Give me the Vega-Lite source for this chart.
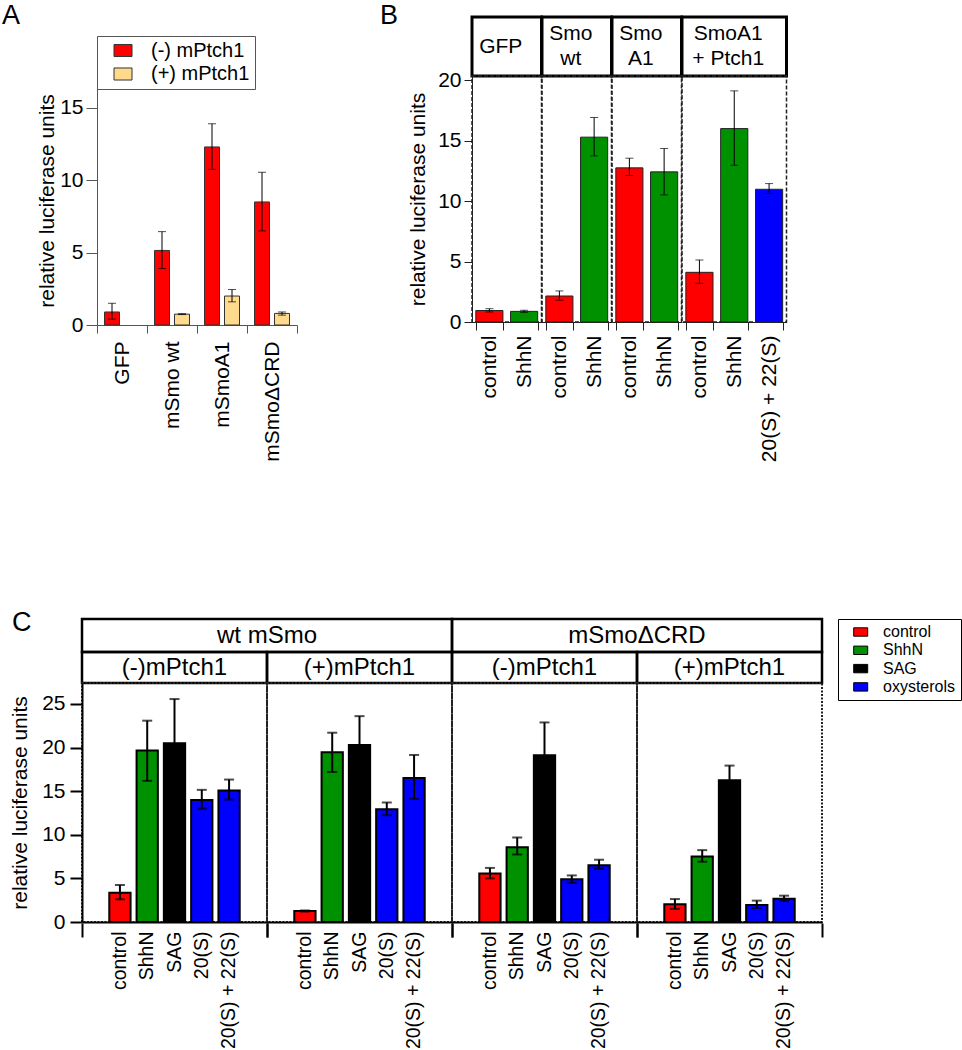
{
"$schema": "https://vega.github.io/schema/vega-lite/v6.json",
"padding": {"left": 2, "top": 0, "right": 2, "bottom": 2},
"background": "white",
"config": {
  "font": "Liberation Sans",
  "view": {"stroke": null},
  "axis": {"grid": false, "labelColor": "black", "titleColor": "black", "titleFontWeight": "normal", "domainColor": "black", "tickColor": "black"},
  "title": {"fontWeight": "normal", "fontSize": 27, "anchor": "start", "offset": 0, "color": "black"}
},
"datasets": {
  "A": [
    {"construct": "GFP", "ptch": "(-)  mPtch1", "v": 0.9, "lo": 0.4, "hi": 1.5},
    {"construct": "mSmo wt", "ptch": "(-)  mPtch1", "v": 5.15, "lo": 3.9, "hi": 6.45},
    {"construct": "mSmo wt", "ptch": "(+) mPtch1", "v": 0.75, "lo": 0.72, "hi": 0.78},
    {"construct": "mSmoA1", "ptch": "(-)  mPtch1", "v": 12.3, "lo": 10.75, "hi": 13.9},
    {"construct": "mSmoA1", "ptch": "(+) mPtch1", "v": 2.0, "lo": 1.6, "hi": 2.45},
    {"construct": "mSmoΔCRD", "ptch": "(-)  mPtch1", "v": 8.5, "lo": 6.5, "hi": 10.55},
    {"construct": "mSmoΔCRD", "ptch": "(+) mPtch1", "v": 0.8, "lo": 0.68, "hi": 0.9}
  ],
  "B": [
    {"grp": "GFP", "trt": "control", "cls": "control", "v": 0.95, "lo": 0.83, "hi": 1.1},
    {"grp": "GFP", "trt": "ShhN", "cls": "ShhN", "v": 0.88, "lo": 0.8, "hi": 0.97},
    {"grp": "Smo wt", "trt": "control", "cls": "control", "v": 2.15, "lo": 1.8, "hi": 2.57},
    {"grp": "Smo wt", "trt": "ShhN", "cls": "ShhN", "v": 15.29, "lo": 13.74, "hi": 16.92},
    {"grp": "Smo A1", "trt": "control", "cls": "control", "v": 12.75, "lo": 12.12, "hi": 13.55},
    {"grp": "Smo A1", "trt": "ShhN", "cls": "ShhN", "v": 12.42, "lo": 10.51, "hi": 14.35},
    {"grp": "SmoA1 + Ptch1", "trt": "control", "cls": "control", "v": 4.11, "lo": 3.2, "hi": 5.13},
    {"grp": "SmoA1 + Ptch1", "trt": "ShhN", "cls": "ShhN", "v": 16.0, "lo": 12.97, "hi": 19.12},
    {"grp": "SmoA1 + Ptch1", "trt": "20(S) + 22(S)", "cls": "oxysterols", "v": 10.98, "lo": 10.63, "hi": 11.45}
  ],
  "C": [
    {"smo": "wt mSmo", "ptch": "(-)mPtch1", "trt": "control", "cls": "control", "v": 3.36, "lo": 2.6, "hi": 4.24},
    {"smo": "wt mSmo", "ptch": "(-)mPtch1", "trt": "ShhN", "cls": "ShhN", "v": 19.65, "lo": 16.18, "hi": 23.08},
    {"smo": "wt mSmo", "ptch": "(-)mPtch1", "trt": "SAG", "cls": "SAG", "v": 20.48, "lo": 15.4, "hi": 25.56},
    {"smo": "wt mSmo", "ptch": "(-)mPtch1", "trt": "20(S)", "cls": "oxysterols", "v": 14.0, "lo": 13.0, "hi": 15.15},
    {"smo": "wt mSmo", "ptch": "(-)mPtch1", "trt": "20(S) + 22(S)", "cls": "oxysterols", "v": 15.07, "lo": 14.04, "hi": 16.33},
    {"smo": "wt mSmo", "ptch": "(+)mPtch1", "trt": "control", "cls": "control", "v": 1.26, "lo": 1.2, "hi": 1.32},
    {"smo": "wt mSmo", "ptch": "(+)mPtch1", "trt": "ShhN", "cls": "ShhN", "v": 19.45, "lo": 17.2, "hi": 21.7},
    {"smo": "wt mSmo", "ptch": "(+)mPtch1", "trt": "SAG", "cls": "SAG", "v": 20.3, "lo": 17.0, "hi": 23.6},
    {"smo": "wt mSmo", "ptch": "(+)mPtch1", "trt": "20(S)", "cls": "oxysterols", "v": 12.93, "lo": 12.24, "hi": 13.7},
    {"smo": "wt mSmo", "ptch": "(+)mPtch1", "trt": "20(S) + 22(S)", "cls": "oxysterols", "v": 16.52, "lo": 14.12, "hi": 19.15},
    {"smo": "mSmoΔCRD", "ptch": "(-)mPtch1", "trt": "control", "cls": "control", "v": 5.57, "lo": 5.0, "hi": 6.2},
    {"smo": "mSmoΔCRD", "ptch": "(-)mPtch1", "trt": "ShhN", "cls": "ShhN", "v": 8.58, "lo": 7.75, "hi": 9.69},
    {"smo": "mSmoΔCRD", "ptch": "(-)mPtch1", "trt": "SAG", "cls": "SAG", "v": 19.11, "lo": 15.4, "hi": 22.88},
    {"smo": "mSmoΔCRD", "ptch": "(-)mPtch1", "trt": "20(S)", "cls": "oxysterols", "v": 4.89, "lo": 4.5, "hi": 5.34},
    {"smo": "mSmoΔCRD", "ptch": "(-)mPtch1", "trt": "20(S) + 22(S)", "cls": "oxysterols", "v": 6.52, "lo": 6.11, "hi": 7.14},
    {"smo": "mSmoΔCRD", "ptch": "(+)mPtch1", "trt": "control", "cls": "control", "v": 2.03, "lo": 1.5, "hi": 2.63},
    {"smo": "mSmoΔCRD", "ptch": "(+)mPtch1", "trt": "ShhN", "cls": "ShhN", "v": 7.52, "lo": 6.91, "hi": 8.24},
    {"smo": "mSmoΔCRD", "ptch": "(+)mPtch1", "trt": "SAG", "cls": "SAG", "v": 16.25, "lo": 14.6, "hi": 17.93},
    {"smo": "mSmoΔCRD", "ptch": "(+)mPtch1", "trt": "20(S)", "cls": "oxysterols", "v": 1.95, "lo": 1.6, "hi": 2.45},
    {"smo": "mSmoΔCRD", "ptch": "(+)mPtch1", "trt": "20(S) + 22(S)", "cls": "oxysterols", "v": 2.67, "lo": 2.4, "hi": 3.02}
  ]
},
"bounds": "flush",
"spacing": 602,
"resolve": {"scale": {"color": "independent"}, "legend": {"color": "independent"}},
"vconcat": [
{
  "columns": 7,
  "bounds": "flush",
  "spacing": 0,
  "align": "each",
  "resolve": {"scale": {"color": "independent"}, "legend": {"color": "independent"}},
  "concat": [
    {"width": 15, "height": 59, "data": {"values": []}, "mark": "text", "encoding": {}},
    {"width": 200, "height": 59, "data": {"values": []}, "mark": "text", "encoding": {}, "title": {"text": "A", "dx": -95, "dy": 17}},
    {"width": 175, "height": 59, "data": {"values": []}, "mark": "text", "encoding": {}},
    {"width": 69.5, "height": 59, "data": {"values": [{"h": "GFP"}]}, "mark": {"type": "text", "fontSize": 21, "dx": -6, "lineBreak": "\n", "lineHeight": 25, "color": "black"}, "encoding": {"text": {"field": "h", "type": "nominal"}}, "view": {"stroke": "black", "strokeWidth": 3}, "title": {"text": "B", "dx": -92, "dy": 17}},
    {"width": 69.5, "height": 59, "data": {"values": [{"h": "Smo\nwt"}]}, "mark": {"type": "text", "fontSize": 21, "dx": -6, "dy": -12.5, "lineBreak": "\n", "lineHeight": 25, "color": "black"}, "encoding": {"text": {"field": "h", "type": "nominal"}}, "view": {"stroke": "black", "strokeWidth": 3}},
    {"width": 69.5, "height": 59, "data": {"values": [{"h": "Smo\nA1"}]}, "mark": {"type": "text", "fontSize": 21, "dx": -6, "dy": -12.5, "lineBreak": "\n", "lineHeight": 25, "color": "black"}, "encoding": {"text": {"field": "h", "type": "nominal"}}, "view": {"stroke": "black", "strokeWidth": 3}},
    {"width": 104.5, "height": 59, "data": {"values": [{"h": "SmoA1\n+ Ptch1"}]}, "mark": {"type": "text", "fontSize": 21, "dx": -6, "dy": -12.5, "lineBreak": "\n", "lineHeight": 25, "color": "black"}, "encoding": {"text": {"field": "h", "type": "nominal"}}, "view": {"stroke": "black", "strokeWidth": 3}},

    {"width": 15, "height": 1, "data": {"values": []}, "mark": "text", "encoding": {}},
    {
      "width": 200, "height": 249,
      "data": {"name": "A"},
      "encoding": {
        "x": {"field": "construct", "type": "nominal", "scale": {"domain": ["GFP", "mSmo wt", "mSmoA1", "mSmoΔCRD"], "paddingInner": 0, "paddingOuter": 0},
              "axis": {"title": null, "labelAngle": -90, "labelFontSize": 21, "tickBand": "extent", "tickSize": 8, "labelPadding": 8, "domainColor": "#555", "tickColor": "#555"}},
        "xOffset": {"field": "ptch", "type": "nominal", "scale": {"domain": ["(-)  mPtch1", "(+) mPtch1"], "paddingInner": 0.25, "paddingOuter": 0.375}}
      },
      "layer": [
        {"mark": {"type": "bar", "stroke": "#333", "strokeWidth": 1},
         "encoding": {
           "y": {"field": "v", "type": "quantitative", "title": "relative luciferase units", "scale": {"domain": [0, 17.2], "nice": false},
                 "axis": {"values": [0, 5, 10, 15], "titleFontSize": 21, "labelFontSize": 21, "tickSize": 11, "labelPadding": 3, "titlePadding": 2, "domainColor": "#555", "tickColor": "#555"}},
           "color": {"field": "ptch", "type": "nominal", "scale": {"domain": ["(-)  mPtch1", "(+) mPtch1"], "range": ["#ff0000", "#ffd98c"]},
                     "legend": {"orient": "none", "legendX": 0, "legendY": -40, "title": null, "symbolType": "M-1,-0.67H1V0.67H-1Z", "symbolSize": 324, "symbolStrokeColor": "#333", "symbolStrokeWidth": 1, "symbolOffset": 11.5, "labelOffset": 18, "labelFontSize": 20, "labelColor": "black", "padding": 4.5, "rowPadding": 3.5, "strokeColor": "#555", "fillColor": "white", "labelLimit": 300}}
         }},
        {"mark": {"type": "rule", "color": "black", "strokeWidth": 1},
         "encoding": {
           "y": {"field": "lo", "type": "quantitative", "title": "relative luciferase units", "scale": {"domain": [0, 17.2], "nice": false},
                 "axis": {"values": [0, 5, 10, 15], "titleFontSize": 21, "labelFontSize": 21, "tickSize": 11, "labelPadding": 3, "titlePadding": 2, "domainColor": "#555", "tickColor": "#555"}},
           "y2": {"field": "hi"}
         }},
        {"mark": {"type": "tick", "orient": "horizontal", "size": 8, "thickness": 1, "color": "black"},
         "encoding": {
           "y": {"field": "lo", "type": "quantitative", "title": "relative luciferase units", "scale": {"domain": [0, 17.2], "nice": false},
                 "axis": {"values": [0, 5, 10, 15], "titleFontSize": 21, "labelFontSize": 21, "tickSize": 11, "labelPadding": 3, "titlePadding": 2, "domainColor": "#555", "tickColor": "#555"}}
         }},
        {"mark": {"type": "tick", "orient": "horizontal", "size": 8, "thickness": 1, "color": "black"},
         "encoding": {
           "y": {"field": "hi", "type": "quantitative", "title": "relative luciferase units", "scale": {"domain": [0, 17.2], "nice": false},
                 "axis": {"values": [0, 5, 10, 15], "titleFontSize": 21, "labelFontSize": 21, "tickSize": 11, "labelPadding": 3, "titlePadding": 2, "domainColor": "#555", "tickColor": "#555"}}
         }}
      ]
    },
    {"width": 175, "height": 1, "data": {"values": []}, "mark": "text", "encoding": {}},
    {
      "width": 69.5, "height": 246,
      "data": {"name": "B"},
      "transform": [{"filter": {"field": "grp", "equal": "GFP"}}],
      "view": {"stroke": "#222", "strokeDash": [4, 2], "strokeWidth": 1.5},
      "encoding": {"x": {"field": "trt", "type": "nominal", "scale": {"domain": ["control", "ShhN"], "paddingInner": 0.22, "paddingOuter": 0.11},
                         "axis": {"title": null, "labelAngle": -90, "labelFontSize": 21, "tickBand": "extent", "tickSize": 8, "labelPadding": 5, "domainColor": "#222", "tickColor": "#222"}}},
      "layer": [
        {"mark": {"type": "bar", "stroke": "#222", "strokeWidth": 1},
         "encoding": {"y": {"field": "v", "type": "quantitative", "title": "relative luciferase units", "scale": {"domain": [0, 20.35], "nice": false},
                            "axis": {"values": [0, 5, 10, 15, 20], "titleFontSize": 21, "labelFontSize": 21, "tickSize": 8, "labelPadding": 3, "titlePadding": 9, "domainColor": "#222", "tickColor": "#222"}},
                      "color": {"field": "cls", "type": "nominal", "scale": {"domain": ["control", "ShhN", "SAG", "oxysterols"], "range": ["#ff0000", "#009100", "#000000", "#0000ff"]}, "legend": null}}},
        {"mark": {"type": "rule", "color": "black", "strokeWidth": 1},
         "encoding": {"y": {"field": "lo", "type": "quantitative", "title": "relative luciferase units", "scale": {"domain": [0, 20.35], "nice": false},
                            "axis": {"values": [0, 5, 10, 15, 20], "titleFontSize": 21, "labelFontSize": 21, "tickSize": 8, "labelPadding": 3, "titlePadding": 9, "domainColor": "#222", "tickColor": "#222"}},
                      "y2": {"field": "hi"}}},
        {"mark": {"type": "tick", "orient": "horizontal", "size": 8, "thickness": 1, "color": "black"},
         "encoding": {"y": {"field": "lo", "type": "quantitative", "title": "relative luciferase units", "scale": {"domain": [0, 20.35], "nice": false},
                            "axis": {"values": [0, 5, 10, 15, 20], "titleFontSize": 21, "labelFontSize": 21, "tickSize": 8, "labelPadding": 3, "titlePadding": 9, "domainColor": "#222", "tickColor": "#222"}}}},
        {"mark": {"type": "tick", "orient": "horizontal", "size": 8, "thickness": 1, "color": "black"},
         "encoding": {"y": {"field": "hi", "type": "quantitative", "title": "relative luciferase units", "scale": {"domain": [0, 20.35], "nice": false},
                            "axis": {"values": [0, 5, 10, 15, 20], "titleFontSize": 21, "labelFontSize": 21, "tickSize": 8, "labelPadding": 3, "titlePadding": 9, "domainColor": "#222", "tickColor": "#222"}}}}
      ]
    },
    {
      "width": 69.5, "height": 246,
      "data": {"name": "B"},
      "transform": [{"filter": {"field": "grp", "equal": "Smo wt"}}],
      "view": {"stroke": "#222", "strokeDash": [4, 2], "strokeWidth": 1.5},
      "encoding": {"x": {"field": "trt", "type": "nominal", "scale": {"domain": ["control", "ShhN"], "paddingInner": 0.22, "paddingOuter": 0.11},
                         "axis": {"title": null, "labelAngle": -90, "labelFontSize": 21, "tickBand": "extent", "tickSize": 8, "labelPadding": 5, "domainColor": "#222", "tickColor": "#222"}}},
      "layer": [
        {"mark": {"type": "bar", "stroke": "#222", "strokeWidth": 1},
         "encoding": {"y": {"field": "v", "type": "quantitative", "scale": {"domain": [0, 20.35], "nice": false}, "axis": null},
                      "color": {"field": "cls", "type": "nominal", "scale": {"domain": ["control", "ShhN", "SAG", "oxysterols"], "range": ["#ff0000", "#009100", "#000000", "#0000ff"]}, "legend": null}}},
        {"mark": {"type": "rule", "color": "black", "strokeWidth": 1},
         "encoding": {"y": {"field": "lo", "type": "quantitative", "scale": {"domain": [0, 20.35], "nice": false}, "axis": null}, "y2": {"field": "hi"}}},
        {"mark": {"type": "tick", "orient": "horizontal", "size": 8, "thickness": 1, "color": "black"},
         "encoding": {"y": {"field": "lo", "type": "quantitative", "scale": {"domain": [0, 20.35], "nice": false}, "axis": null}}},
        {"mark": {"type": "tick", "orient": "horizontal", "size": 8, "thickness": 1, "color": "black"},
         "encoding": {"y": {"field": "hi", "type": "quantitative", "scale": {"domain": [0, 20.35], "nice": false}, "axis": null}}}
      ]
    },
    {
      "width": 69.5, "height": 246,
      "data": {"name": "B"},
      "transform": [{"filter": {"field": "grp", "equal": "Smo A1"}}],
      "view": {"stroke": "#222", "strokeDash": [4, 2], "strokeWidth": 1.5},
      "encoding": {"x": {"field": "trt", "type": "nominal", "scale": {"domain": ["control", "ShhN"], "paddingInner": 0.22, "paddingOuter": 0.11},
                         "axis": {"title": null, "labelAngle": -90, "labelFontSize": 21, "tickBand": "extent", "tickSize": 8, "labelPadding": 5, "domainColor": "#222", "tickColor": "#222"}}},
      "layer": [
        {"mark": {"type": "bar", "stroke": "#222", "strokeWidth": 1},
         "encoding": {"y": {"field": "v", "type": "quantitative", "scale": {"domain": [0, 20.35], "nice": false}, "axis": null},
                      "color": {"field": "cls", "type": "nominal", "scale": {"domain": ["control", "ShhN", "SAG", "oxysterols"], "range": ["#ff0000", "#009100", "#000000", "#0000ff"]}, "legend": null}}},
        {"mark": {"type": "rule", "color": "black", "strokeWidth": 1},
         "encoding": {"y": {"field": "lo", "type": "quantitative", "scale": {"domain": [0, 20.35], "nice": false}, "axis": null}, "y2": {"field": "hi"}}},
        {"mark": {"type": "tick", "orient": "horizontal", "size": 8, "thickness": 1, "color": "black"},
         "encoding": {"y": {"field": "lo", "type": "quantitative", "scale": {"domain": [0, 20.35], "nice": false}, "axis": null}}},
        {"mark": {"type": "tick", "orient": "horizontal", "size": 8, "thickness": 1, "color": "black"},
         "encoding": {"y": {"field": "hi", "type": "quantitative", "scale": {"domain": [0, 20.35], "nice": false}, "axis": null}}}
      ]
    },
    {
      "width": 104.5, "height": 246,
      "data": {"name": "B"},
      "transform": [{"filter": {"field": "grp", "equal": "SmoA1 + Ptch1"}}],
      "view": {"stroke": "#222", "strokeDash": [4, 2], "strokeWidth": 1.5},
      "encoding": {"x": {"field": "trt", "type": "nominal", "scale": {"domain": ["control", "ShhN", "20(S) + 22(S)"], "paddingInner": 0.22, "paddingOuter": 0.11},
                         "axis": {"title": null, "labelAngle": -90, "labelFontSize": 21, "tickBand": "extent", "tickSize": 8, "labelPadding": 5, "domainColor": "#222", "tickColor": "#222"}}},
      "layer": [
        {"mark": {"type": "bar", "stroke": "#222", "strokeWidth": 1},
         "encoding": {"y": {"field": "v", "type": "quantitative", "scale": {"domain": [0, 20.35], "nice": false}, "axis": null},
                      "color": {"field": "cls", "type": "nominal", "scale": {"domain": ["control", "ShhN", "SAG", "oxysterols"], "range": ["#ff0000", "#009100", "#000000", "#0000ff"]}, "legend": null}}},
        {"mark": {"type": "rule", "color": "black", "strokeWidth": 1},
         "encoding": {"y": {"field": "lo", "type": "quantitative", "scale": {"domain": [0, 20.35], "nice": false}, "axis": null}, "y2": {"field": "hi"}}},
        {"mark": {"type": "tick", "orient": "horizontal", "size": 8, "thickness": 1, "color": "black"},
         "encoding": {"y": {"field": "lo", "type": "quantitative", "scale": {"domain": [0, 20.35], "nice": false}, "axis": null}}},
        {"mark": {"type": "tick", "orient": "horizontal", "size": 8, "thickness": 1, "color": "black"},
         "encoding": {"y": {"field": "hi", "type": "quantitative", "scale": {"domain": [0, 20.35], "nice": false}, "axis": null}}}
      ]
    }
  ]
},
{
  "hconcat": [
    {
      "vconcat": [
        {"width": 370, "height": 33, "data": {"values": [{"h": "wt mSmo"}]}, "mark": {"type": "text", "fontSize": 24, "color": "black"}, "encoding": {"text": {"field": "h", "type": "nominal"}}, "view": {"stroke": "black", "strokeWidth": 2.5}, "title": {"text": "C", "dx": -70, "dy": 22}},
        {
          "columns": 2, "bounds": "flush", "spacing": 0, "align": "each",
          "resolve": {"scale": {"color": "independent"}, "legend": {"color": "independent"}},
          "concat": [
            {"width": 185, "height": 31, "data": {"values": [{"h": "(-)mPtch1"}]}, "mark": {"type": "text", "fontSize": 24, "color": "black"}, "encoding": {"text": {"field": "h", "type": "nominal"}}, "view": {"stroke": "black", "strokeWidth": 2.5}},
            {"width": 185, "height": 31, "data": {"values": [{"h": "(+)mPtch1"}]}, "mark": {"type": "text", "fontSize": 24, "color": "black"}, "encoding": {"text": {"field": "h", "type": "nominal"}}, "view": {"stroke": "black", "strokeWidth": 2.5}},
            {
              "width": 185, "height": 239,
              "data": {"name": "C"},
              "transform": [{"filter": "datum.smo == 'wt mSmo' && datum.ptch == '(-)mPtch1'"}],
              "view": {"stroke": "#222", "strokeDash": [2, 1.5], "strokeWidth": 2},
              "encoding": {"x": {"field": "trt", "type": "nominal", "scale": {"domain": ["control", "ShhN", "SAG", "20(S)", "20(S) + 22(S)"], "paddingInner": 0.22, "paddingOuter": 1.05},
                                 "axis": {"title": null, "labelAngle": -90, "labelFontSize": 19.5, "ticks": false, "labelPadding": 9, "domainWidth": 2}}},
              "layer": [
                {"mark": {"type": "bar", "stroke": "black", "strokeWidth": 2},
                 "encoding": {"y": {"field": "v", "type": "quantitative", "title": "relative luciferase units", "scale": {"domain": [0, 27.4], "nice": false},
                                    "axis": {"values": [0, 5, 10, 15, 20, 25], "titleFontSize": 21, "labelFontSize": 21, "tickSize": 12, "tickWidth": 2, "domainWidth": 2, "labelPadding": 5, "titlePadding": 11}},
                              "color": {"field": "cls", "type": "nominal", "scale": {"domain": ["control", "ShhN", "SAG", "oxysterols"], "range": ["#ff0000", "#009100", "#000000", "#0000ff"]}, "legend": null}}},
                {"mark": {"type": "rule", "color": "black", "strokeWidth": 2},
                 "encoding": {"y": {"field": "lo", "type": "quantitative", "title": "relative luciferase units", "scale": {"domain": [0, 27.4], "nice": false},
                                    "axis": {"values": [0, 5, 10, 15, 20, 25], "titleFontSize": 21, "labelFontSize": 21, "tickSize": 12, "tickWidth": 2, "domainWidth": 2, "labelPadding": 5, "titlePadding": 11}},
                              "y2": {"field": "hi"}}},
                {"mark": {"type": "tick", "orient": "horizontal", "size": 10, "thickness": 2, "color": "black"},
                 "encoding": {"y": {"field": "lo", "type": "quantitative", "title": "relative luciferase units", "scale": {"domain": [0, 27.4], "nice": false},
                                    "axis": {"values": [0, 5, 10, 15, 20, 25], "titleFontSize": 21, "labelFontSize": 21, "tickSize": 12, "tickWidth": 2, "domainWidth": 2, "labelPadding": 5, "titlePadding": 11}}}},
                {"mark": {"type": "tick", "orient": "horizontal", "size": 10, "thickness": 2, "color": "black"},
                 "encoding": {"y": {"field": "hi", "type": "quantitative", "title": "relative luciferase units", "scale": {"domain": [0, 27.4], "nice": false},
                                    "axis": {"values": [0, 5, 10, 15, 20, 25], "titleFontSize": 21, "labelFontSize": 21, "tickSize": 12, "tickWidth": 2, "domainWidth": 2, "labelPadding": 5, "titlePadding": 11}}}}
              ]
            },
            {
              "width": 185, "height": 239,
              "data": {"name": "C"},
              "transform": [{"filter": "datum.smo == 'wt mSmo' && datum.ptch == '(+)mPtch1'"}],
              "view": {"stroke": "#222", "strokeDash": [2, 1.5], "strokeWidth": 2},
              "encoding": {"x": {"field": "trt", "type": "nominal", "scale": {"domain": ["control", "ShhN", "SAG", "20(S)", "20(S) + 22(S)"], "paddingInner": 0.22, "paddingOuter": 1.05},
                                 "axis": {"title": null, "labelAngle": -90, "labelFontSize": 19.5, "ticks": false, "labelPadding": 9, "domainWidth": 2}}},
              "layer": [
                {"mark": {"type": "bar", "stroke": "black", "strokeWidth": 2},
                 "encoding": {"y": {"field": "v", "type": "quantitative", "scale": {"domain": [0, 27.4], "nice": false}, "axis": null},
                              "color": {"field": "cls", "type": "nominal", "scale": {"domain": ["control", "ShhN", "SAG", "oxysterols"], "range": ["#ff0000", "#009100", "#000000", "#0000ff"]}, "legend": null}}},
                {"mark": {"type": "rule", "color": "black", "strokeWidth": 2},
                 "encoding": {"y": {"field": "lo", "type": "quantitative", "scale": {"domain": [0, 27.4], "nice": false}, "axis": null}, "y2": {"field": "hi"}}},
                {"mark": {"type": "tick", "orient": "horizontal", "size": 10, "thickness": 2, "color": "black"},
                 "encoding": {"y": {"field": "lo", "type": "quantitative", "scale": {"domain": [0, 27.4], "nice": false}, "axis": null}}},
                {"mark": {"type": "tick", "orient": "horizontal", "size": 10, "thickness": 2, "color": "black"},
                 "encoding": {"y": {"field": "hi", "type": "quantitative", "scale": {"domain": [0, 27.4], "nice": false}, "axis": null}}}
              ]
            },
            {"width": 185, "height": 1, "data": {"values": []}, "mark": "rule",
             "encoding": {"x": {"field": "b", "type": "quantitative", "scale": {"domain": [0, 1], "nice": false},
                                "axis": {"values": [0, 1], "labels": false, "domain": false, "tickSize": 14, "tickWidth": 2, "title": null}}}},
            {"width": 185, "height": 1, "data": {"values": []}, "mark": "rule",
             "encoding": {"x": {"field": "b", "type": "quantitative", "scale": {"domain": [0, 1], "nice": false},
                                "axis": {"values": [0, 1], "labels": false, "domain": false, "tickSize": 14, "tickWidth": 2, "title": null}}}}
          ]
        }
      ],
      "spacing": 0, "bounds": "flush",
      "resolve": {"scale": {"color": "independent"}, "legend": {"color": "independent"}}
    },
    {
      "vconcat": [
        {"width": 370, "height": 33, "data": {"values": [{"h": "mSmoΔCRD"}]}, "mark": {"type": "text", "fontSize": 24, "color": "black"}, "encoding": {"text": {"field": "h", "type": "nominal"}}, "view": {"stroke": "black", "strokeWidth": 2.5}},
        {
          "columns": 2, "bounds": "flush", "spacing": 0, "align": "each",
          "resolve": {"scale": {"color": "independent"}, "legend": {"color": "independent"}},
          "concat": [
            {"width": 185, "height": 31, "data": {"values": [{"h": "(-)mPtch1"}]}, "mark": {"type": "text", "fontSize": 24, "color": "black"}, "encoding": {"text": {"field": "h", "type": "nominal"}}, "view": {"stroke": "black", "strokeWidth": 2.5}},
            {"width": 185, "height": 31, "data": {"values": [{"h": "(+)mPtch1"}]}, "mark": {"type": "text", "fontSize": 24, "color": "black"}, "encoding": {"text": {"field": "h", "type": "nominal"}}, "view": {"stroke": "black", "strokeWidth": 2.5}},
            {
              "width": 185, "height": 239,
              "data": {"name": "C"},
              "transform": [{"filter": "datum.smo == 'mSmoΔCRD' && datum.ptch == '(-)mPtch1'"}],
              "view": {"stroke": "#222", "strokeDash": [2, 1.5], "strokeWidth": 2},
              "encoding": {"x": {"field": "trt", "type": "nominal", "scale": {"domain": ["control", "ShhN", "SAG", "20(S)", "20(S) + 22(S)"], "paddingInner": 0.22, "paddingOuter": 1.05},
                                 "axis": {"title": null, "labelAngle": -90, "labelFontSize": 19.5, "ticks": false, "labelPadding": 9, "domainWidth": 2}}},
              "layer": [
                {"mark": {"type": "bar", "stroke": "black", "strokeWidth": 2},
                 "encoding": {"y": {"field": "v", "type": "quantitative", "scale": {"domain": [0, 27.4], "nice": false}, "axis": null},
                              "color": {"field": "cls", "type": "nominal", "scale": {"domain": ["control", "ShhN", "SAG", "oxysterols"], "range": ["#ff0000", "#009100", "#000000", "#0000ff"]}, "legend": null}}},
                {"mark": {"type": "rule", "color": "black", "strokeWidth": 2},
                 "encoding": {"y": {"field": "lo", "type": "quantitative", "scale": {"domain": [0, 27.4], "nice": false}, "axis": null}, "y2": {"field": "hi"}}},
                {"mark": {"type": "tick", "orient": "horizontal", "size": 10, "thickness": 2, "color": "black"},
                 "encoding": {"y": {"field": "lo", "type": "quantitative", "scale": {"domain": [0, 27.4], "nice": false}, "axis": null}}},
                {"mark": {"type": "tick", "orient": "horizontal", "size": 10, "thickness": 2, "color": "black"},
                 "encoding": {"y": {"field": "hi", "type": "quantitative", "scale": {"domain": [0, 27.4], "nice": false}, "axis": null}}}
              ]
            },
            {
              "width": 185, "height": 239,
              "data": {"name": "C"},
              "transform": [{"filter": "datum.smo == 'mSmoΔCRD' && datum.ptch == '(+)mPtch1'"}],
              "view": {"stroke": "#222", "strokeDash": [2, 1.5], "strokeWidth": 2},
              "encoding": {"x": {"field": "trt", "type": "nominal", "scale": {"domain": ["control", "ShhN", "SAG", "20(S)", "20(S) + 22(S)"], "paddingInner": 0.22, "paddingOuter": 1.05},
                                 "axis": {"title": null, "labelAngle": -90, "labelFontSize": 19.5, "ticks": false, "labelPadding": 9, "domainWidth": 2}}},
              "layer": [
                {"mark": {"type": "bar", "stroke": "black", "strokeWidth": 2},
                 "encoding": {"y": {"field": "v", "type": "quantitative", "scale": {"domain": [0, 27.4], "nice": false}, "axis": null},
                              "color": {"field": "cls", "type": "nominal", "scale": {"domain": ["control", "ShhN", "SAG", "oxysterols"], "range": ["#ff0000", "#009100", "#000000", "#0000ff"]},
                                        "legend": {"orient": "none", "legendX": 201, "legendY": -64, "title": null, "symbolType": "M-1,-0.6H1V0.6H-1Z", "symbolSize": 196, "symbolStrokeColor": "black", "symbolStrokeWidth": 1, "symbolOffset": 9.7, "labelOffset": 14.3, "labelFontSize": 16, "labelColor": "black", "padding": 5, "rowPadding": 2.3, "strokeColor": "black", "fillColor": "white", "labelLimit": 300}}}},
                {"mark": {"type": "rule", "color": "black", "strokeWidth": 2},
                 "encoding": {"y": {"field": "lo", "type": "quantitative", "scale": {"domain": [0, 27.4], "nice": false}, "axis": null}, "y2": {"field": "hi"}}},
                {"mark": {"type": "tick", "orient": "horizontal", "size": 10, "thickness": 2, "color": "black"},
                 "encoding": {"y": {"field": "lo", "type": "quantitative", "scale": {"domain": [0, 27.4], "nice": false}, "axis": null}}},
                {"mark": {"type": "tick", "orient": "horizontal", "size": 10, "thickness": 2, "color": "black"},
                 "encoding": {"y": {"field": "hi", "type": "quantitative", "scale": {"domain": [0, 27.4], "nice": false}, "axis": null}}}
              ]
            },
            {"width": 185, "height": 1, "data": {"values": []}, "mark": "rule",
             "encoding": {"x": {"field": "b", "type": "quantitative", "scale": {"domain": [0, 1], "nice": false},
                                "axis": {"values": [0, 1], "labels": false, "domain": false, "tickSize": 14, "tickWidth": 2, "title": null}}}},
            {"width": 185, "height": 1, "data": {"values": []}, "mark": "rule",
             "encoding": {"x": {"field": "b", "type": "quantitative", "scale": {"domain": [0, 1], "nice": false},
                                "axis": {"values": [0, 1], "labels": false, "domain": false, "tickSize": 14, "tickWidth": 2, "title": null}}}}
          ]
        }
      ],
      "spacing": 0, "bounds": "flush",
      "resolve": {"scale": {"color": "independent"}, "legend": {"color": "independent"}}
    }
  ],
  "spacing": 370, "bounds": "flush",
  "resolve": {"scale": {"color": "independent"}, "legend": {"color": "independent"}}
}
]
}
